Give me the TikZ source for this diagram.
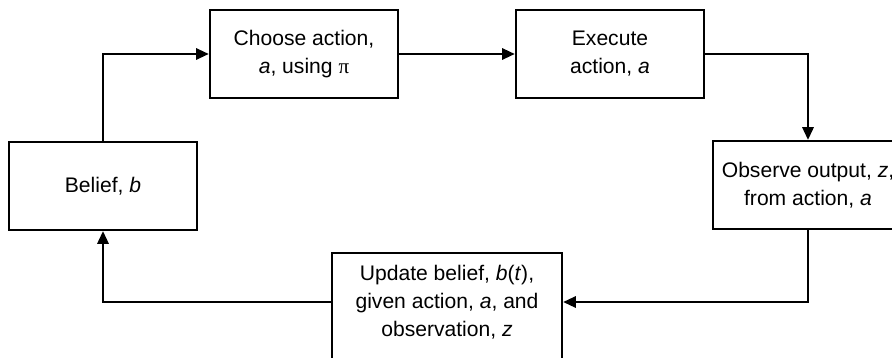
\documentclass[tikz,border=0pt]{standalone}
\usepackage{fontspec}
\setmainfont{Liberation Sans}
\newfontfamily\greekfont{Liberation Serif}
\usetikzlibrary{arrows.meta,positioning}

\begin{document}
\begin{tikzpicture}[
        every node/.style={rectangle,draw,line width=2.4pt,minimum width=6.27cm,minimum height=2.93cm,
            align=center,font=\fontsize{20pt}{26.5pt}\selectfont},
        link/.style={line width=1.3pt,-{Triangle[length=12pt,width=11pt]}}
    ]
    \clip (0,0) rectangle (29.733,11.9);

    \node (belief)  at (3.433,5.70)   {Belief, \textit{b}};
    \node (choose)  at (10.133,10.1)  {Choose action,\\\textit{a}, using {\greekfont π}};
    \node (execute) at (20.333,10.1)  {Execute\\action, \textit{a}};
    \node[minimum width=6.33cm] (observe) at (26.933,5.733)
        {Observe output, \textit{z},\\from action, \textit{a}};
    \node[minimum width=7.667cm,minimum height=3.767cm] (update) at (14.9,1.583)
        {Update belief, \textit{b}(\textit{t}),\\given action, \textit{a}, and\\observation, \textit{z}\rule[-17pt]{0pt}{17pt}};
    \coordinate (mid) at (0,1.833);

    \draw[link] (belief) |- (choose);
    \draw[link] (choose) -- (execute);
    \draw[link] (execute) -| (observe);
    \draw[link] (observe) |- (update.east |- mid);
    \draw[link] (update.west |- mid) -| (belief);
\end{tikzpicture}
\end{document}
